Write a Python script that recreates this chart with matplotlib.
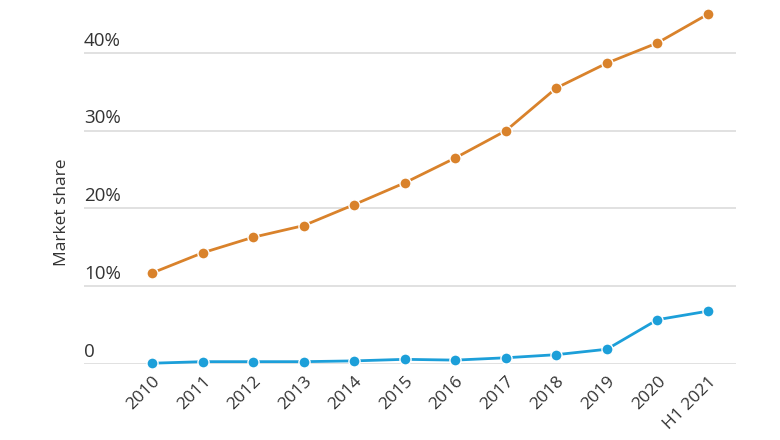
import numpy as np
import matplotlib.pyplot as plt
import matplotlib.transforms as mtransforms

plt.rcParams['font.family'] = ['Open Sans', 'DejaVu Sans']

# Data
years = ["2010", "2011", "2012", "2013", "2014", "2015", "2016", "2017",
         "2018", "2019", "2020", "H1 2021"]
orange = [11.7, 14.3, 16.3, 17.8, 20.5, 23.3, 26.5, 30.0, 35.5, 38.7, 41.3, 45.0]
blue = [0.1, 0.3, 0.3, 0.3, 0.4, 0.6, 0.5, 0.8, 1.2, 1.9, 5.7, 6.8]
yticks = [0, 10, 20, 30, 40]
ytick_labels = ["0", "10%", "20%", "30%", "40%"]

fig = plt.figure(figsize=(7.8, 4.4), dpi=100)
ax = fig.add_axes([84/780, (440-364)/440, (736-84)/780, (364-10)/440])

x = np.arange(len(years))
ax.plot(x, orange, color="#d9822b", lw=2, marker="o", ms=8,
        mec="white", mew=1, clip_on=False, zorder=3)
ax.plot(x, blue, color="#1c9fd9", lw=2, marker="o", ms=8,
        mec="white", mew=1, clip_on=False, zorder=3)

ax.set_xlim(-1.345, 11.554)
ax.set_ylim(0, (364-10)/7.775)

# gridlines + labels sitting above them
for v, lab in zip(yticks, ytick_labels):
    ax.axhline(v, color="#dcdcdc", lw=1.2, zorder=1)
    trans = mtransforms.offset_copy(ax.get_yaxis_transform(), fig=fig, x=0, y=2.5, units='points')
    ax.text(0, v, lab, transform=trans, ha="left", va="bottom",
            fontsize=13.5, color="#333333")

ax.set_yticks([])
ax.set_xticks(x)
ax.set_xticklabels(years, rotation=45, ha="right", rotation_mode="anchor",
                   fontsize=12.5, color="#333333")
ax.tick_params(axis="x", length=0, pad=7)
for s in ax.spines.values():
    s.set_visible(False)

fig.text(62/780, 1 - 212/440, "Market share", rotation=90, ha="center",
         va="center", fontsize=12.5, color="#333333")

fig.savefig("out.png", dpi=100, facecolor="white")
